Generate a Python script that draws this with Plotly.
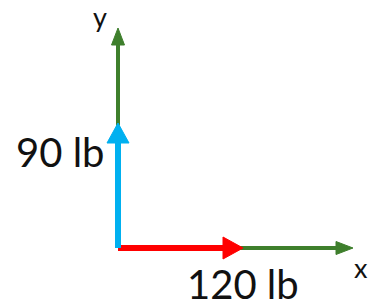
import math
import plotly.graph_objects as go

# Data
force_labels = ["90 lb", "120 lb"]
force_x = [0, 120]
force_y = [90, 0]
force_colors = ["#00B0F0", "#FF0000"]
axis_labels = ["x", "y"]

W, H = 369, 308
ox, oy = 118, 248            # origin in pixels
kx, ky = 125 / 120, 125 / 90  # px per unit
x_rng = [-ox / kx, (W - ox) / kx]
y_rng = [-(H - oy) / ky, oy / ky]
x_axis_len = (353 - ox) / kx
y_axis_len = (oy - 28) / ky

fig = go.Figure()

def arrow(x1, y1, color, lw, hl, hw):
    dxp, dyp = x1 * kx, y1 * ky
    L = math.hypot(dxp, dyp)
    ux, uy = dxp / L, dyp / L
    bx, by = dxp - ux * hl, dyp - uy * hl
    px_, py_ = -uy, ux
    fig.add_trace(go.Scatter(x=[0, bx / kx], y=[0, by / ky], mode="lines",
                             line=dict(color=color, width=lw), hoverinfo="skip"))
    tx = [dxp, bx + px_ * hw / 2, bx - px_ * hw / 2, dxp]
    ty = [dyp, by + py_ * hw / 2, by - py_ * hw / 2, dyp]
    fig.add_trace(go.Scatter(x=[v / kx for v in tx], y=[v / ky for v in ty], mode="lines",
                             fill="toself", fillcolor=color, line=dict(color=color, width=1),
                             hoverinfo="skip"))

green = "#3E7F2C"
arrow(x_axis_len, 0, green, 4, 17, 13)
arrow(0, y_axis_len, green, 4, 17, 13)
arrow(force_x[1], force_y[1], force_colors[1], 6, 20, 22)
arrow(force_x[0], force_y[0], force_colors[0], 6, 20, 22)

font = "Lato"
fig.add_annotation(x=0, y=(oy - 152) / ky, xref="x", yref="y", text=force_labels[0],
                   showarrow=False, xanchor="right", xshift=-12,
                   font=dict(family=font, size=40, color="#111111"))
fig.add_annotation(x=force_x[1], y=0, xref="x", yref="y", text=force_labels[1],
                   showarrow=False, yanchor="middle", yshift=-36,
                   font=dict(family=font, size=40, color="#111111"))
fig.add_annotation(x=x_axis_len, y=0, xref="x", yref="y", text=axis_labels[0],
                   showarrow=False, xshift=8, yshift=-19,
                   font=dict(family=font, size=27, color="#111111"))
fig.add_annotation(x=0, y=y_axis_len, xref="x", yref="y", text=axis_labels[1],
                   showarrow=False, xshift=-18, yshift=12,
                   font=dict(family=font, size=27, color="#111111"))

fig.update_layout(width=W, height=H, margin=dict(l=0, r=0, t=0, b=0),
                  paper_bgcolor="white", plot_bgcolor="white", showlegend=False,
                  xaxis=dict(range=x_rng, visible=False, fixedrange=True),
                  yaxis=dict(range=y_rng, visible=False, fixedrange=True))
fig.write_html("out.html", config={"displayModeBar": False},
               post_script="document.body.style.margin='0';")
